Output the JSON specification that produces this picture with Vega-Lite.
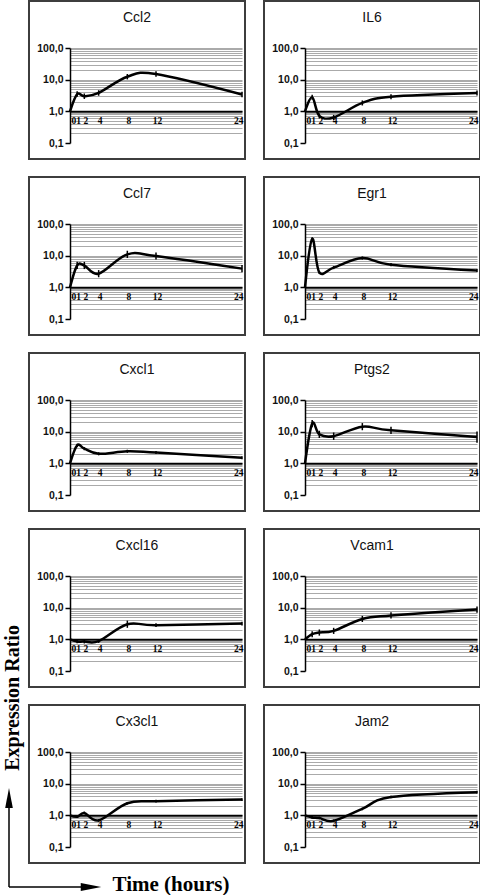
{
  "$schema": "https://vega.github.io/schema/vega-lite/v6.json",
  "padding": 0,
  "autosize": {"type": "pad"},
  "bounds": "flush",
  "spacing": 0,
  "background": "white",
  "config": {"view": {"stroke": null}, "font": "Liberation Sans"},
  "datasets": {
    "labels": [
      {"name": "y", "label": "Expression Ratio"},
      {"name": "x", "label": "Time (hours)"}
    ],
    "expr": [
      {"gene": "Ccl2", "t": 0, "v": 1, "lo": 1, "hi": 1},
      {"gene": "Ccl2", "t": 1, "v": 3.5, "lo": 2.87, "hi": 4.27},
      {"gene": "Ccl2", "t": 2, "v": 3.0, "lo": 2.46, "hi": 3.66},
      {"gene": "Ccl2", "t": 4, "v": 3.8, "lo": 3.11, "hi": 4.64},
      {"gene": "Ccl2", "t": 8, "v": 12.4, "lo": 10.2, "hi": 15.1},
      {"gene": "Ccl2", "t": 12, "v": 15, "lo": 12.3, "hi": 18.3},
      {"gene": "Ccl2", "t": 24, "v": 3.4, "lo": 2.79, "hi": 4.15},
      {"gene": "IL6", "t": 0, "v": 1, "lo": 1, "hi": 1},
      {"gene": "IL6", "t": 1, "v": 2.8, "lo": 2.33, "hi": 3.36},
      {"gene": "IL6", "t": 2, "v": 0.72, "lo": 0.6, "hi": 0.86},
      {"gene": "IL6", "t": 4, "v": 0.64, "lo": 0.53, "hi": 0.77},
      {"gene": "IL6", "t": 8, "v": 1.84, "lo": 1.53, "hi": 2.21},
      {"gene": "IL6", "t": 12, "v": 2.9, "lo": 2.42, "hi": 3.48},
      {"gene": "IL6", "t": 24, "v": 3.8, "lo": 3.17, "hi": 4.56},
      {"gene": "Ccl7", "t": 0, "v": 1, "lo": 1, "hi": 1},
      {"gene": "Ccl7", "t": 1, "v": 4.9, "lo": 3.77, "hi": 6.37},
      {"gene": "Ccl7", "t": 2, "v": 4.9, "lo": 3.77, "hi": 6.37},
      {"gene": "Ccl7", "t": 4, "v": 2.7, "lo": 2.08, "hi": 3.51},
      {"gene": "Ccl7", "t": 8, "v": 11, "lo": 8.46, "hi": 14.3},
      {"gene": "Ccl7", "t": 12, "v": 9.8, "lo": 7.54, "hi": 12.7},
      {"gene": "Ccl7", "t": 24, "v": 3.9, "lo": 3.0, "hi": 5.07},
      {"gene": "Egr1", "t": 0, "v": 1, "lo": 1, "hi": 1},
      {"gene": "Egr1", "t": 1, "v": 34, "lo": 30.4, "hi": 38.1},
      {"gene": "Egr1", "t": 2, "v": 2.95, "lo": 2.63, "hi": 3.3},
      {"gene": "Egr1", "t": 4, "v": 4.2, "lo": 3.75, "hi": 4.7},
      {"gene": "Egr1", "t": 8, "v": 8.4, "lo": 7.5, "hi": 9.4},
      {"gene": "Egr1", "t": 12, "v": 5.2, "lo": 4.64, "hi": 5.82},
      {"gene": "Egr1", "t": 24, "v": 3.4, "lo": 3.04, "hi": 3.81},
      {"gene": "Cxcl1", "t": 0, "v": 1, "lo": 1, "hi": 1},
      {"gene": "Cxcl1", "t": 1, "v": 3.7, "lo": 3.3, "hi": 4.14},
      {"gene": "Cxcl1", "t": 2, "v": 2.9, "lo": 2.59, "hi": 3.25},
      {"gene": "Cxcl1", "t": 4, "v": 2.0, "lo": 1.79, "hi": 2.24},
      {"gene": "Cxcl1", "t": 8, "v": 2.4, "lo": 2.14, "hi": 2.69},
      {"gene": "Cxcl1", "t": 12, "v": 2.2, "lo": 1.96, "hi": 2.46},
      {"gene": "Cxcl1", "t": 24, "v": 1.5, "lo": 1.34, "hi": 1.68},
      {"gene": "Ptgs2", "t": 0, "v": 1, "lo": 1, "hi": 1},
      {"gene": "Ptgs2", "t": 1, "v": 18, "lo": 13.8, "hi": 23.4},
      {"gene": "Ptgs2", "t": 2, "v": 8.2, "lo": 6.3, "hi": 10.7},
      {"gene": "Ptgs2", "t": 4, "v": 7.2, "lo": 5.5, "hi": 9.4},
      {"gene": "Ptgs2", "t": 8, "v": 14.4, "lo": 11.1, "hi": 18.7},
      {"gene": "Ptgs2", "t": 12, "v": 11, "lo": 8.5, "hi": 14.3},
      {"gene": "Ptgs2", "t": 24, "v": 6.8, "lo": 4.5, "hi": 10.2},
      {"gene": "Cxcl16", "t": 0, "v": 1, "lo": 1, "hi": 1},
      {"gene": "Cxcl16", "t": 1, "v": 0.86, "lo": 0.75, "hi": 0.99},
      {"gene": "Cxcl16", "t": 2, "v": 0.85, "lo": 0.74, "hi": 0.98},
      {"gene": "Cxcl16", "t": 4, "v": 0.88, "lo": 0.77, "hi": 1.01},
      {"gene": "Cxcl16", "t": 8, "v": 3.0, "lo": 2.31, "hi": 3.9},
      {"gene": "Cxcl16", "t": 12, "v": 2.8, "lo": 2.43, "hi": 3.22},
      {"gene": "Cxcl16", "t": 24, "v": 3.15, "lo": 2.74, "hi": 3.62},
      {"gene": "Vcam1", "t": 0, "v": 1, "lo": 1, "hi": 1},
      {"gene": "Vcam1", "t": 1, "v": 1.45, "lo": 1.16, "hi": 1.81},
      {"gene": "Vcam1", "t": 2, "v": 1.64, "lo": 1.31, "hi": 2.05},
      {"gene": "Vcam1", "t": 4, "v": 1.85, "lo": 1.48, "hi": 2.31},
      {"gene": "Vcam1", "t": 8, "v": 4.4, "lo": 3.52, "hi": 5.5},
      {"gene": "Vcam1", "t": 12, "v": 5.7, "lo": 4.56, "hi": 7.13},
      {"gene": "Vcam1", "t": 24, "v": 8.7, "lo": 6.96, "hi": 10.9},
      {"gene": "Cx3cl1", "t": 0, "v": 1, "lo": 1, "hi": 1},
      {"gene": "Cx3cl1", "t": 1, "v": 0.9, "lo": 0.82, "hi": 0.99},
      {"gene": "Cx3cl1", "t": 2, "v": 1.19, "lo": 1.08, "hi": 1.31},
      {"gene": "Cx3cl1", "t": 4, "v": 0.69, "lo": 0.63, "hi": 0.76},
      {"gene": "Cx3cl1", "t": 8, "v": 2.4, "lo": 2.18, "hi": 2.64},
      {"gene": "Cx3cl1", "t": 12, "v": 2.8, "lo": 2.55, "hi": 3.08},
      {"gene": "Cx3cl1", "t": 24, "v": 3.15, "lo": 2.86, "hi": 3.47},
      {"gene": "Jam2", "t": 0, "v": 1, "lo": 1, "hi": 1},
      {"gene": "Jam2", "t": 1, "v": 0.86, "lo": 0.78, "hi": 0.95},
      {"gene": "Jam2", "t": 2, "v": 0.82, "lo": 0.75, "hi": 0.9},
      {"gene": "Jam2", "t": 4, "v": 0.67, "lo": 0.61, "hi": 0.74},
      {"gene": "Jam2", "t": 8, "v": 1.6, "lo": 1.45, "hi": 1.76},
      {"gene": "Jam2", "t": 12, "v": 3.8, "lo": 3.45, "hi": 4.18},
      {"gene": "Jam2", "t": 24, "v": 5.4, "lo": 4.91, "hi": 5.94}
    ]
  },
  "hconcat": [
    {
      "width": 70,
      "height": 847,
      "data": {"name": "labels"},
      "layer": [
        {
          "transform": [{"filter": "datum.name == 'y'"}],
          "mark": {"type": "text", "angle": 270, "align": "center", "baseline": "alphabetic", "font": "Liberation Serif", "fontWeight": "bold", "fontSize": 20, "color": "#000"},
          "encoding": {
            "x": {"datum": 0.2714, "type": "quantitative", "scale": {"domain": [0, 1], "nice": false, "zero": false}, "axis": null},
            "y": {"datum": 0.2326, "type": "quantitative", "scale": {"domain": [0, 1], "nice": false, "zero": false}, "axis": null},
            "text": {"field": "label"}
          }
        },
        {
          "transform": [{"filter": "datum.name == 'y'"}],
          "mark": {"type": "rule", "color": "#000", "strokeWidth": 1.5},
          "encoding": {
            "x": {"datum": 0.1286, "type": "quantitative", "scale": {"domain": [0, 1], "nice": false, "zero": false}, "axis": null},
            "y": {"datum": 0.00945, "type": "quantitative", "scale": {"domain": [0, 1], "nice": false, "zero": false}, "axis": null},
            "y2": {"datum": 0.1122}
          }
        },
        {
          "transform": [{"filter": "datum.name == 'y'"}],
          "mark": {"type": "point", "shape": "M0,-1L0.38,1L-0.38,1Z", "filled": true, "color": "#000", "size": 400, "opacity": 1},
          "encoding": {
            "x": {"datum": 0.1286, "type": "quantitative", "scale": {"domain": [0, 1], "nice": false, "zero": false}, "axis": null},
            "y": {"datum": 0.1145, "type": "quantitative", "scale": {"domain": [0, 1], "nice": false, "zero": false}, "axis": null}
          }
        },
        {
          "transform": [{"filter": "datum.name == 'x'"}],
          "mark": {"type": "rule", "color": "#000", "strokeWidth": 1.5},
          "encoding": {
            "x": {"datum": 0.1286, "type": "quantitative", "scale": {"domain": [0, 1], "nice": false, "zero": false}, "axis": null},
            "x2": {"datum": 1.1714},
            "y": {"datum": 0.00945, "type": "quantitative", "scale": {"domain": [0, 1], "nice": false, "zero": false}, "axis": null}
          }
        },
        {
          "transform": [{"filter": "datum.name == 'x'"}],
          "mark": {"type": "point", "shape": "M1,0L-1,-0.38L-1,0.38Z", "filled": true, "color": "#000", "size": 420, "opacity": 1},
          "encoding": {
            "x": {"datum": 1.3, "type": "quantitative", "scale": {"domain": [0, 1], "nice": false, "zero": false}, "axis": null},
            "y": {"datum": 0.00945, "type": "quantitative", "scale": {"domain": [0, 1], "nice": false, "zero": false}, "axis": null}
          }
        },
        {
          "transform": [{"filter": "datum.name == 'x'"}],
          "mark": {"type": "text", "align": "center", "baseline": "alphabetic", "font": "Liberation Serif", "fontWeight": "bold", "fontSize": 21, "color": "#000"},
          "encoding": {
            "x": {"datum": 2.443, "type": "quantitative", "scale": {"domain": [0, 1], "nice": false, "zero": false}, "axis": null},
            "y": {"datum": 0.0047, "type": "quantitative", "scale": {"domain": [0, 1], "nice": false, "zero": false}, "axis": null},
            "text": {"field": "label"}
          }
        }
      ]
    },
    {
      "data": {"name": "expr"},
      "columns": 2,
      "bounds": "full",
      "spacing": {"row": 16, "column": 15},
      "concat": [
        {"transform": [{"filter": "datum.gene == 'Ccl2'"}], "width": 172, "height": 95, "layer": [
          {"mark": {"type": "line", "interpolate": "cardinal", "color": "#000", "strokeWidth": 2.5}, "encoding": {
            "x": {"field": "t", "type": "quantitative", "scale": {"type": "linear", "domain": [0, 24], "nice": false, "zero": false}, "axis": {"values": [0, 24], "title": null, "grid": false, "ticks": false, "labels": false, "offset": -31.67, "domainColor": "#000", "domainWidth": 2}},
            "y": {"field": "v", "type": "quantitative", "scale": {"type": "log", "domain": [0.1, 100], "nice": false}, "axis": {"values": [0.1, 0.2, 0.3, 0.4, 0.5, 0.6, 0.7, 0.8, 0.9, 1, 2, 3, 4, 5, 6, 7, 8, 9, 10, 20, 30, 40, 50, 60, 70, 80, 90, 100], "title": null, "grid": true, "gridColor": "#aaaaaa", "gridWidth": 1, "gridOpacity": {"condition": {"test": "datum.value < 0.15", "value": 0}, "value": 1}, "labelExpr": "datum.value == 0.1 ? '0,1' : datum.value == 1 ? '1,0' : datum.value == 10 ? '10,0' : datum.value == 100 ? '100,0' : ''", "labelFont": "Liberation Sans", "labelFontWeight": "bold", "labelFontSize": 10.5, "labelColor": "#111", "labelPadding": 2, "labelOverlap": false, "labelBound": false, "labelFlush": false, "tickSize": 5, "tickColor": "#000", "tickWidth": 1.5, "tickOpacity": {"condition": {"test": "datum.value == 0.1 || datum.value == 1 || datum.value == 10 || datum.value == 100", "value": 1}, "value": 0}, "domainColor": "#000", "domainWidth": 1.5}}}},
          {"transform": [{"filter": "datum.t > 0"}], "mark": {"type": "rule", "color": "#000", "strokeWidth": 1.5}, "encoding": {"x": {"field": "t", "type": "quantitative", "scale": {"type": "linear", "domain": [0, 24], "nice": false, "zero": false}}, "y": {"field": "lo", "type": "quantitative", "scale": {"type": "log", "domain": [0.1, 100], "nice": false}}, "y2": {"field": "hi"}}},
          {"mark": {"type": "text", "font": "Liberation Serif", "fontWeight": "bold", "fontSize": 9.5, "color": "#000", "baseline": "middle", "dy": 10, "dx": 1.5, "align": {"expr": "datum.t == 0 ? 'left' : datum.t == 24 ? 'right' : 'center'"}}, "encoding": {"x": {"field": "t", "type": "quantitative", "scale": {"type": "linear", "domain": [0, 24], "nice": false, "zero": false}}, "y": {"datum": 1, "type": "quantitative", "scale": {"type": "log", "domain": [0.1, 100], "nice": false}}, "text": {"field": "t", "type": "quantitative"}}},
          {"transform": [{"filter": "datum.t == 0"}], "mark": {"type": "rect", "filled": false, "stroke": "#3d3d3d", "strokeWidth": 2}, "encoding": {"x": {"datum": -5.721, "type": "quantitative", "scale": {"type": "linear", "domain": [0, 24], "nice": false, "zero": false}}, "x2": {"datum": 24.419}, "y": {"datum": 0.03126, "type": "quantitative", "scale": {"type": "log", "domain": [0.1, 100], "nice": false}}, "y2": {"datum": 3048}}},
          {"transform": [{"filter": "datum.t == 0"}], "mark": {"type": "text", "align": "center", "baseline": "middle", "font": "Liberation Sans", "fontSize": 14, "color": "#111"}, "encoding": {"x": {"datum": 9.349, "type": "quantitative", "scale": {"type": "linear", "domain": [0, 24], "nice": false, "zero": false}}, "y": {"datum": 886, "type": "quantitative", "scale": {"type": "log", "domain": [0.1, 100], "nice": false}}, "text": {"field": "gene"}}}
        ]},
        {"transform": [{"filter": "datum.gene == 'IL6'"}], "width": 172, "height": 95, "layer": [
          {"mark": {"type": "line", "interpolate": "cardinal", "color": "#000", "strokeWidth": 2.5}, "encoding": {
            "x": {"field": "t", "type": "quantitative", "scale": {"type": "linear", "domain": [0, 24], "nice": false, "zero": false}, "axis": {"values": [0, 24], "title": null, "grid": false, "ticks": false, "labels": false, "offset": -31.67, "domainColor": "#000", "domainWidth": 2}},
            "y": {"field": "v", "type": "quantitative", "scale": {"type": "log", "domain": [0.1, 100], "nice": false}, "axis": {"values": [0.1, 0.2, 0.3, 0.4, 0.5, 0.6, 0.7, 0.8, 0.9, 1, 2, 3, 4, 5, 6, 7, 8, 9, 10, 20, 30, 40, 50, 60, 70, 80, 90, 100], "title": null, "grid": true, "gridColor": "#aaaaaa", "gridWidth": 1, "gridOpacity": {"condition": {"test": "datum.value < 0.15", "value": 0}, "value": 1}, "labelExpr": "datum.value == 0.1 ? '0,1' : datum.value == 1 ? '1,0' : datum.value == 10 ? '10,0' : datum.value == 100 ? '100,0' : ''", "labelFont": "Liberation Sans", "labelFontWeight": "bold", "labelFontSize": 10.5, "labelColor": "#111", "labelPadding": 2, "labelOverlap": false, "labelBound": false, "labelFlush": false, "tickSize": 5, "tickColor": "#000", "tickWidth": 1.5, "tickOpacity": {"condition": {"test": "datum.value == 0.1 || datum.value == 1 || datum.value == 10 || datum.value == 100", "value": 1}, "value": 0}, "domainColor": "#000", "domainWidth": 1.5}}}},
          {"transform": [{"filter": "datum.t > 0"}], "mark": {"type": "rule", "color": "#000", "strokeWidth": 1.5}, "encoding": {"x": {"field": "t", "type": "quantitative", "scale": {"type": "linear", "domain": [0, 24], "nice": false, "zero": false}}, "y": {"field": "lo", "type": "quantitative", "scale": {"type": "log", "domain": [0.1, 100], "nice": false}}, "y2": {"field": "hi"}}},
          {"mark": {"type": "text", "font": "Liberation Serif", "fontWeight": "bold", "fontSize": 9.5, "color": "#000", "baseline": "middle", "dy": 10, "dx": 1.5, "align": {"expr": "datum.t == 0 ? 'left' : datum.t == 24 ? 'right' : 'center'"}}, "encoding": {"x": {"field": "t", "type": "quantitative", "scale": {"type": "linear", "domain": [0, 24], "nice": false, "zero": false}}, "y": {"datum": 1, "type": "quantitative", "scale": {"type": "log", "domain": [0.1, 100], "nice": false}}, "text": {"field": "t", "type": "quantitative"}}},
          {"transform": [{"filter": "datum.t == 0"}], "mark": {"type": "rect", "filled": false, "stroke": "#3d3d3d", "strokeWidth": 2}, "encoding": {"x": {"datum": -5.721, "type": "quantitative", "scale": {"type": "linear", "domain": [0, 24], "nice": false, "zero": false}}, "x2": {"datum": 24.419}, "y": {"datum": 0.03126, "type": "quantitative", "scale": {"type": "log", "domain": [0.1, 100], "nice": false}}, "y2": {"datum": 3048}}},
          {"transform": [{"filter": "datum.t == 0"}], "mark": {"type": "text", "align": "center", "baseline": "middle", "font": "Liberation Sans", "fontSize": 14, "color": "#111"}, "encoding": {"x": {"datum": 9.349, "type": "quantitative", "scale": {"type": "linear", "domain": [0, 24], "nice": false, "zero": false}}, "y": {"datum": 886, "type": "quantitative", "scale": {"type": "log", "domain": [0.1, 100], "nice": false}}, "text": {"field": "gene"}}}
        ]},
        {"transform": [{"filter": "datum.gene == 'Ccl7'"}], "width": 172, "height": 95, "layer": [
          {"mark": {"type": "line", "interpolate": "cardinal", "color": "#000", "strokeWidth": 2.5}, "encoding": {
            "x": {"field": "t", "type": "quantitative", "scale": {"type": "linear", "domain": [0, 24], "nice": false, "zero": false}, "axis": {"values": [0, 24], "title": null, "grid": false, "ticks": false, "labels": false, "offset": -31.67, "domainColor": "#000", "domainWidth": 2}},
            "y": {"field": "v", "type": "quantitative", "scale": {"type": "log", "domain": [0.1, 100], "nice": false}, "axis": {"values": [0.1, 0.2, 0.3, 0.4, 0.5, 0.6, 0.7, 0.8, 0.9, 1, 2, 3, 4, 5, 6, 7, 8, 9, 10, 20, 30, 40, 50, 60, 70, 80, 90, 100], "title": null, "grid": true, "gridColor": "#aaaaaa", "gridWidth": 1, "gridOpacity": {"condition": {"test": "datum.value < 0.15", "value": 0}, "value": 1}, "labelExpr": "datum.value == 0.1 ? '0,1' : datum.value == 1 ? '1,0' : datum.value == 10 ? '10,0' : datum.value == 100 ? '100,0' : ''", "labelFont": "Liberation Sans", "labelFontWeight": "bold", "labelFontSize": 10.5, "labelColor": "#111", "labelPadding": 2, "labelOverlap": false, "labelBound": false, "labelFlush": false, "tickSize": 5, "tickColor": "#000", "tickWidth": 1.5, "tickOpacity": {"condition": {"test": "datum.value == 0.1 || datum.value == 1 || datum.value == 10 || datum.value == 100", "value": 1}, "value": 0}, "domainColor": "#000", "domainWidth": 1.5}}}},
          {"transform": [{"filter": "datum.t > 0"}], "mark": {"type": "rule", "color": "#000", "strokeWidth": 1.5}, "encoding": {"x": {"field": "t", "type": "quantitative", "scale": {"type": "linear", "domain": [0, 24], "nice": false, "zero": false}}, "y": {"field": "lo", "type": "quantitative", "scale": {"type": "log", "domain": [0.1, 100], "nice": false}}, "y2": {"field": "hi"}}},
          {"mark": {"type": "text", "font": "Liberation Serif", "fontWeight": "bold", "fontSize": 9.5, "color": "#000", "baseline": "middle", "dy": 10, "dx": 1.5, "align": {"expr": "datum.t == 0 ? 'left' : datum.t == 24 ? 'right' : 'center'"}}, "encoding": {"x": {"field": "t", "type": "quantitative", "scale": {"type": "linear", "domain": [0, 24], "nice": false, "zero": false}}, "y": {"datum": 1, "type": "quantitative", "scale": {"type": "log", "domain": [0.1, 100], "nice": false}}, "text": {"field": "t", "type": "quantitative"}}},
          {"transform": [{"filter": "datum.t == 0"}], "mark": {"type": "rect", "filled": false, "stroke": "#3d3d3d", "strokeWidth": 2}, "encoding": {"x": {"datum": -5.721, "type": "quantitative", "scale": {"type": "linear", "domain": [0, 24], "nice": false, "zero": false}}, "x2": {"datum": 24.419}, "y": {"datum": 0.03126, "type": "quantitative", "scale": {"type": "log", "domain": [0.1, 100], "nice": false}}, "y2": {"datum": 3048}}},
          {"transform": [{"filter": "datum.t == 0"}], "mark": {"type": "text", "align": "center", "baseline": "middle", "font": "Liberation Sans", "fontSize": 14, "color": "#111"}, "encoding": {"x": {"datum": 9.349, "type": "quantitative", "scale": {"type": "linear", "domain": [0, 24], "nice": false, "zero": false}}, "y": {"datum": 886, "type": "quantitative", "scale": {"type": "log", "domain": [0.1, 100], "nice": false}}, "text": {"field": "gene"}}}
        ]},
        {"transform": [{"filter": "datum.gene == 'Egr1'"}], "width": 172, "height": 95, "layer": [
          {"mark": {"type": "line", "interpolate": "cardinal", "color": "#000", "strokeWidth": 2.5}, "encoding": {
            "x": {"field": "t", "type": "quantitative", "scale": {"type": "linear", "domain": [0, 24], "nice": false, "zero": false}, "axis": {"values": [0, 24], "title": null, "grid": false, "ticks": false, "labels": false, "offset": -31.67, "domainColor": "#000", "domainWidth": 2}},
            "y": {"field": "v", "type": "quantitative", "scale": {"type": "log", "domain": [0.1, 100], "nice": false}, "axis": {"values": [0.1, 0.2, 0.3, 0.4, 0.5, 0.6, 0.7, 0.8, 0.9, 1, 2, 3, 4, 5, 6, 7, 8, 9, 10, 20, 30, 40, 50, 60, 70, 80, 90, 100], "title": null, "grid": true, "gridColor": "#aaaaaa", "gridWidth": 1, "gridOpacity": {"condition": {"test": "datum.value < 0.15", "value": 0}, "value": 1}, "labelExpr": "datum.value == 0.1 ? '0,1' : datum.value == 1 ? '1,0' : datum.value == 10 ? '10,0' : datum.value == 100 ? '100,0' : ''", "labelFont": "Liberation Sans", "labelFontWeight": "bold", "labelFontSize": 10.5, "labelColor": "#111", "labelPadding": 2, "labelOverlap": false, "labelBound": false, "labelFlush": false, "tickSize": 5, "tickColor": "#000", "tickWidth": 1.5, "tickOpacity": {"condition": {"test": "datum.value == 0.1 || datum.value == 1 || datum.value == 10 || datum.value == 100", "value": 1}, "value": 0}, "domainColor": "#000", "domainWidth": 1.5}}}},
          {"transform": [{"filter": "datum.t > 0"}], "mark": {"type": "rule", "color": "#000", "strokeWidth": 1.5}, "encoding": {"x": {"field": "t", "type": "quantitative", "scale": {"type": "linear", "domain": [0, 24], "nice": false, "zero": false}}, "y": {"field": "lo", "type": "quantitative", "scale": {"type": "log", "domain": [0.1, 100], "nice": false}}, "y2": {"field": "hi"}}},
          {"mark": {"type": "text", "font": "Liberation Serif", "fontWeight": "bold", "fontSize": 9.5, "color": "#000", "baseline": "middle", "dy": 10, "dx": 1.5, "align": {"expr": "datum.t == 0 ? 'left' : datum.t == 24 ? 'right' : 'center'"}}, "encoding": {"x": {"field": "t", "type": "quantitative", "scale": {"type": "linear", "domain": [0, 24], "nice": false, "zero": false}}, "y": {"datum": 1, "type": "quantitative", "scale": {"type": "log", "domain": [0.1, 100], "nice": false}}, "text": {"field": "t", "type": "quantitative"}}},
          {"transform": [{"filter": "datum.t == 0"}], "mark": {"type": "rect", "filled": false, "stroke": "#3d3d3d", "strokeWidth": 2}, "encoding": {"x": {"datum": -5.721, "type": "quantitative", "scale": {"type": "linear", "domain": [0, 24], "nice": false, "zero": false}}, "x2": {"datum": 24.419}, "y": {"datum": 0.03126, "type": "quantitative", "scale": {"type": "log", "domain": [0.1, 100], "nice": false}}, "y2": {"datum": 3048}}},
          {"transform": [{"filter": "datum.t == 0"}], "mark": {"type": "text", "align": "center", "baseline": "middle", "font": "Liberation Sans", "fontSize": 14, "color": "#111"}, "encoding": {"x": {"datum": 9.349, "type": "quantitative", "scale": {"type": "linear", "domain": [0, 24], "nice": false, "zero": false}}, "y": {"datum": 886, "type": "quantitative", "scale": {"type": "log", "domain": [0.1, 100], "nice": false}}, "text": {"field": "gene"}}}
        ]},
        {"transform": [{"filter": "datum.gene == 'Cxcl1'"}], "width": 172, "height": 95, "layer": [
          {"mark": {"type": "line", "interpolate": "cardinal", "color": "#000", "strokeWidth": 2.5}, "encoding": {
            "x": {"field": "t", "type": "quantitative", "scale": {"type": "linear", "domain": [0, 24], "nice": false, "zero": false}, "axis": {"values": [0, 24], "title": null, "grid": false, "ticks": false, "labels": false, "offset": -31.67, "domainColor": "#000", "domainWidth": 2}},
            "y": {"field": "v", "type": "quantitative", "scale": {"type": "log", "domain": [0.1, 100], "nice": false}, "axis": {"values": [0.1, 0.2, 0.3, 0.4, 0.5, 0.6, 0.7, 0.8, 0.9, 1, 2, 3, 4, 5, 6, 7, 8, 9, 10, 20, 30, 40, 50, 60, 70, 80, 90, 100], "title": null, "grid": true, "gridColor": "#aaaaaa", "gridWidth": 1, "gridOpacity": {"condition": {"test": "datum.value < 0.15", "value": 0}, "value": 1}, "labelExpr": "datum.value == 0.1 ? '0,1' : datum.value == 1 ? '1,0' : datum.value == 10 ? '10,0' : datum.value == 100 ? '100,0' : ''", "labelFont": "Liberation Sans", "labelFontWeight": "bold", "labelFontSize": 10.5, "labelColor": "#111", "labelPadding": 2, "labelOverlap": false, "labelBound": false, "labelFlush": false, "tickSize": 5, "tickColor": "#000", "tickWidth": 1.5, "tickOpacity": {"condition": {"test": "datum.value == 0.1 || datum.value == 1 || datum.value == 10 || datum.value == 100", "value": 1}, "value": 0}, "domainColor": "#000", "domainWidth": 1.5}}}},
          {"transform": [{"filter": "datum.t > 0"}], "mark": {"type": "rule", "color": "#000", "strokeWidth": 1.5}, "encoding": {"x": {"field": "t", "type": "quantitative", "scale": {"type": "linear", "domain": [0, 24], "nice": false, "zero": false}}, "y": {"field": "lo", "type": "quantitative", "scale": {"type": "log", "domain": [0.1, 100], "nice": false}}, "y2": {"field": "hi"}}},
          {"mark": {"type": "text", "font": "Liberation Serif", "fontWeight": "bold", "fontSize": 9.5, "color": "#000", "baseline": "middle", "dy": 10, "dx": 1.5, "align": {"expr": "datum.t == 0 ? 'left' : datum.t == 24 ? 'right' : 'center'"}}, "encoding": {"x": {"field": "t", "type": "quantitative", "scale": {"type": "linear", "domain": [0, 24], "nice": false, "zero": false}}, "y": {"datum": 1, "type": "quantitative", "scale": {"type": "log", "domain": [0.1, 100], "nice": false}}, "text": {"field": "t", "type": "quantitative"}}},
          {"transform": [{"filter": "datum.t == 0"}], "mark": {"type": "rect", "filled": false, "stroke": "#3d3d3d", "strokeWidth": 2}, "encoding": {"x": {"datum": -5.721, "type": "quantitative", "scale": {"type": "linear", "domain": [0, 24], "nice": false, "zero": false}}, "x2": {"datum": 24.419}, "y": {"datum": 0.03126, "type": "quantitative", "scale": {"type": "log", "domain": [0.1, 100], "nice": false}}, "y2": {"datum": 3048}}},
          {"transform": [{"filter": "datum.t == 0"}], "mark": {"type": "text", "align": "center", "baseline": "middle", "font": "Liberation Sans", "fontSize": 14, "color": "#111"}, "encoding": {"x": {"datum": 9.349, "type": "quantitative", "scale": {"type": "linear", "domain": [0, 24], "nice": false, "zero": false}}, "y": {"datum": 886, "type": "quantitative", "scale": {"type": "log", "domain": [0.1, 100], "nice": false}}, "text": {"field": "gene"}}}
        ]},
        {"transform": [{"filter": "datum.gene == 'Ptgs2'"}], "width": 172, "height": 95, "layer": [
          {"mark": {"type": "line", "interpolate": "cardinal", "color": "#000", "strokeWidth": 2.5}, "encoding": {
            "x": {"field": "t", "type": "quantitative", "scale": {"type": "linear", "domain": [0, 24], "nice": false, "zero": false}, "axis": {"values": [0, 24], "title": null, "grid": false, "ticks": false, "labels": false, "offset": -31.67, "domainColor": "#000", "domainWidth": 2}},
            "y": {"field": "v", "type": "quantitative", "scale": {"type": "log", "domain": [0.1, 100], "nice": false}, "axis": {"values": [0.1, 0.2, 0.3, 0.4, 0.5, 0.6, 0.7, 0.8, 0.9, 1, 2, 3, 4, 5, 6, 7, 8, 9, 10, 20, 30, 40, 50, 60, 70, 80, 90, 100], "title": null, "grid": true, "gridColor": "#aaaaaa", "gridWidth": 1, "gridOpacity": {"condition": {"test": "datum.value < 0.15", "value": 0}, "value": 1}, "labelExpr": "datum.value == 0.1 ? '0,1' : datum.value == 1 ? '1,0' : datum.value == 10 ? '10,0' : datum.value == 100 ? '100,0' : ''", "labelFont": "Liberation Sans", "labelFontWeight": "bold", "labelFontSize": 10.5, "labelColor": "#111", "labelPadding": 2, "labelOverlap": false, "labelBound": false, "labelFlush": false, "tickSize": 5, "tickColor": "#000", "tickWidth": 1.5, "tickOpacity": {"condition": {"test": "datum.value == 0.1 || datum.value == 1 || datum.value == 10 || datum.value == 100", "value": 1}, "value": 0}, "domainColor": "#000", "domainWidth": 1.5}}}},
          {"transform": [{"filter": "datum.t > 0"}], "mark": {"type": "rule", "color": "#000", "strokeWidth": 1.5}, "encoding": {"x": {"field": "t", "type": "quantitative", "scale": {"type": "linear", "domain": [0, 24], "nice": false, "zero": false}}, "y": {"field": "lo", "type": "quantitative", "scale": {"type": "log", "domain": [0.1, 100], "nice": false}}, "y2": {"field": "hi"}}},
          {"mark": {"type": "text", "font": "Liberation Serif", "fontWeight": "bold", "fontSize": 9.5, "color": "#000", "baseline": "middle", "dy": 10, "dx": 1.5, "align": {"expr": "datum.t == 0 ? 'left' : datum.t == 24 ? 'right' : 'center'"}}, "encoding": {"x": {"field": "t", "type": "quantitative", "scale": {"type": "linear", "domain": [0, 24], "nice": false, "zero": false}}, "y": {"datum": 1, "type": "quantitative", "scale": {"type": "log", "domain": [0.1, 100], "nice": false}}, "text": {"field": "t", "type": "quantitative"}}},
          {"transform": [{"filter": "datum.t == 0"}], "mark": {"type": "rect", "filled": false, "stroke": "#3d3d3d", "strokeWidth": 2}, "encoding": {"x": {"datum": -5.721, "type": "quantitative", "scale": {"type": "linear", "domain": [0, 24], "nice": false, "zero": false}}, "x2": {"datum": 24.419}, "y": {"datum": 0.03126, "type": "quantitative", "scale": {"type": "log", "domain": [0.1, 100], "nice": false}}, "y2": {"datum": 3048}}},
          {"transform": [{"filter": "datum.t == 0"}], "mark": {"type": "text", "align": "center", "baseline": "middle", "font": "Liberation Sans", "fontSize": 14, "color": "#111"}, "encoding": {"x": {"datum": 9.349, "type": "quantitative", "scale": {"type": "linear", "domain": [0, 24], "nice": false, "zero": false}}, "y": {"datum": 886, "type": "quantitative", "scale": {"type": "log", "domain": [0.1, 100], "nice": false}}, "text": {"field": "gene"}}}
        ]},
        {"transform": [{"filter": "datum.gene == 'Cxcl16'"}], "width": 172, "height": 95, "layer": [
          {"mark": {"type": "line", "interpolate": "cardinal", "color": "#000", "strokeWidth": 2.5}, "encoding": {
            "x": {"field": "t", "type": "quantitative", "scale": {"type": "linear", "domain": [0, 24], "nice": false, "zero": false}, "axis": {"values": [0, 24], "title": null, "grid": false, "ticks": false, "labels": false, "offset": -31.67, "domainColor": "#000", "domainWidth": 2}},
            "y": {"field": "v", "type": "quantitative", "scale": {"type": "log", "domain": [0.1, 100], "nice": false}, "axis": {"values": [0.1, 0.2, 0.3, 0.4, 0.5, 0.6, 0.7, 0.8, 0.9, 1, 2, 3, 4, 5, 6, 7, 8, 9, 10, 20, 30, 40, 50, 60, 70, 80, 90, 100], "title": null, "grid": true, "gridColor": "#aaaaaa", "gridWidth": 1, "gridOpacity": {"condition": {"test": "datum.value < 0.15", "value": 0}, "value": 1}, "labelExpr": "datum.value == 0.1 ? '0,1' : datum.value == 1 ? '1,0' : datum.value == 10 ? '10,0' : datum.value == 100 ? '100,0' : ''", "labelFont": "Liberation Sans", "labelFontWeight": "bold", "labelFontSize": 10.5, "labelColor": "#111", "labelPadding": 2, "labelOverlap": false, "labelBound": false, "labelFlush": false, "tickSize": 5, "tickColor": "#000", "tickWidth": 1.5, "tickOpacity": {"condition": {"test": "datum.value == 0.1 || datum.value == 1 || datum.value == 10 || datum.value == 100", "value": 1}, "value": 0}, "domainColor": "#000", "domainWidth": 1.5}}}},
          {"transform": [{"filter": "datum.t > 0"}], "mark": {"type": "rule", "color": "#000", "strokeWidth": 1.5}, "encoding": {"x": {"field": "t", "type": "quantitative", "scale": {"type": "linear", "domain": [0, 24], "nice": false, "zero": false}}, "y": {"field": "lo", "type": "quantitative", "scale": {"type": "log", "domain": [0.1, 100], "nice": false}}, "y2": {"field": "hi"}}},
          {"mark": {"type": "text", "font": "Liberation Serif", "fontWeight": "bold", "fontSize": 9.5, "color": "#000", "baseline": "middle", "dy": 10, "dx": 1.5, "align": {"expr": "datum.t == 0 ? 'left' : datum.t == 24 ? 'right' : 'center'"}}, "encoding": {"x": {"field": "t", "type": "quantitative", "scale": {"type": "linear", "domain": [0, 24], "nice": false, "zero": false}}, "y": {"datum": 1, "type": "quantitative", "scale": {"type": "log", "domain": [0.1, 100], "nice": false}}, "text": {"field": "t", "type": "quantitative"}}},
          {"transform": [{"filter": "datum.t == 0"}], "mark": {"type": "rect", "filled": false, "stroke": "#3d3d3d", "strokeWidth": 2}, "encoding": {"x": {"datum": -5.721, "type": "quantitative", "scale": {"type": "linear", "domain": [0, 24], "nice": false, "zero": false}}, "x2": {"datum": 24.419}, "y": {"datum": 0.03126, "type": "quantitative", "scale": {"type": "log", "domain": [0.1, 100], "nice": false}}, "y2": {"datum": 3048}}},
          {"transform": [{"filter": "datum.t == 0"}], "mark": {"type": "text", "align": "center", "baseline": "middle", "font": "Liberation Sans", "fontSize": 14, "color": "#111"}, "encoding": {"x": {"datum": 9.349, "type": "quantitative", "scale": {"type": "linear", "domain": [0, 24], "nice": false, "zero": false}}, "y": {"datum": 886, "type": "quantitative", "scale": {"type": "log", "domain": [0.1, 100], "nice": false}}, "text": {"field": "gene"}}}
        ]},
        {"transform": [{"filter": "datum.gene == 'Vcam1'"}], "width": 172, "height": 95, "layer": [
          {"mark": {"type": "line", "interpolate": "cardinal", "color": "#000", "strokeWidth": 2.5}, "encoding": {
            "x": {"field": "t", "type": "quantitative", "scale": {"type": "linear", "domain": [0, 24], "nice": false, "zero": false}, "axis": {"values": [0, 24], "title": null, "grid": false, "ticks": false, "labels": false, "offset": -31.67, "domainColor": "#000", "domainWidth": 2}},
            "y": {"field": "v", "type": "quantitative", "scale": {"type": "log", "domain": [0.1, 100], "nice": false}, "axis": {"values": [0.1, 0.2, 0.3, 0.4, 0.5, 0.6, 0.7, 0.8, 0.9, 1, 2, 3, 4, 5, 6, 7, 8, 9, 10, 20, 30, 40, 50, 60, 70, 80, 90, 100], "title": null, "grid": true, "gridColor": "#aaaaaa", "gridWidth": 1, "gridOpacity": {"condition": {"test": "datum.value < 0.15", "value": 0}, "value": 1}, "labelExpr": "datum.value == 0.1 ? '0,1' : datum.value == 1 ? '1,0' : datum.value == 10 ? '10,0' : datum.value == 100 ? '100,0' : ''", "labelFont": "Liberation Sans", "labelFontWeight": "bold", "labelFontSize": 10.5, "labelColor": "#111", "labelPadding": 2, "labelOverlap": false, "labelBound": false, "labelFlush": false, "tickSize": 5, "tickColor": "#000", "tickWidth": 1.5, "tickOpacity": {"condition": {"test": "datum.value == 0.1 || datum.value == 1 || datum.value == 10 || datum.value == 100", "value": 1}, "value": 0}, "domainColor": "#000", "domainWidth": 1.5}}}},
          {"transform": [{"filter": "datum.t > 0"}], "mark": {"type": "rule", "color": "#000", "strokeWidth": 1.5}, "encoding": {"x": {"field": "t", "type": "quantitative", "scale": {"type": "linear", "domain": [0, 24], "nice": false, "zero": false}}, "y": {"field": "lo", "type": "quantitative", "scale": {"type": "log", "domain": [0.1, 100], "nice": false}}, "y2": {"field": "hi"}}},
          {"mark": {"type": "text", "font": "Liberation Serif", "fontWeight": "bold", "fontSize": 9.5, "color": "#000", "baseline": "middle", "dy": 10, "dx": 1.5, "align": {"expr": "datum.t == 0 ? 'left' : datum.t == 24 ? 'right' : 'center'"}}, "encoding": {"x": {"field": "t", "type": "quantitative", "scale": {"type": "linear", "domain": [0, 24], "nice": false, "zero": false}}, "y": {"datum": 1, "type": "quantitative", "scale": {"type": "log", "domain": [0.1, 100], "nice": false}}, "text": {"field": "t", "type": "quantitative"}}},
          {"transform": [{"filter": "datum.t == 0"}], "mark": {"type": "rect", "filled": false, "stroke": "#3d3d3d", "strokeWidth": 2}, "encoding": {"x": {"datum": -5.721, "type": "quantitative", "scale": {"type": "linear", "domain": [0, 24], "nice": false, "zero": false}}, "x2": {"datum": 24.419}, "y": {"datum": 0.03126, "type": "quantitative", "scale": {"type": "log", "domain": [0.1, 100], "nice": false}}, "y2": {"datum": 3048}}},
          {"transform": [{"filter": "datum.t == 0"}], "mark": {"type": "text", "align": "center", "baseline": "middle", "font": "Liberation Sans", "fontSize": 14, "color": "#111"}, "encoding": {"x": {"datum": 9.349, "type": "quantitative", "scale": {"type": "linear", "domain": [0, 24], "nice": false, "zero": false}}, "y": {"datum": 886, "type": "quantitative", "scale": {"type": "log", "domain": [0.1, 100], "nice": false}}, "text": {"field": "gene"}}}
        ]},
        {"transform": [{"filter": "datum.gene == 'Cx3cl1'"}], "width": 172, "height": 95, "layer": [
          {"mark": {"type": "line", "interpolate": "cardinal", "color": "#000", "strokeWidth": 2.5}, "encoding": {
            "x": {"field": "t", "type": "quantitative", "scale": {"type": "linear", "domain": [0, 24], "nice": false, "zero": false}, "axis": {"values": [0, 24], "title": null, "grid": false, "ticks": false, "labels": false, "offset": -31.67, "domainColor": "#000", "domainWidth": 2}},
            "y": {"field": "v", "type": "quantitative", "scale": {"type": "log", "domain": [0.1, 100], "nice": false}, "axis": {"values": [0.1, 0.2, 0.3, 0.4, 0.5, 0.6, 0.7, 0.8, 0.9, 1, 2, 3, 4, 5, 6, 7, 8, 9, 10, 20, 30, 40, 50, 60, 70, 80, 90, 100], "title": null, "grid": true, "gridColor": "#aaaaaa", "gridWidth": 1, "gridOpacity": {"condition": {"test": "datum.value < 0.15", "value": 0}, "value": 1}, "labelExpr": "datum.value == 0.1 ? '0,1' : datum.value == 1 ? '1,0' : datum.value == 10 ? '10,0' : datum.value == 100 ? '100,0' : ''", "labelFont": "Liberation Sans", "labelFontWeight": "bold", "labelFontSize": 10.5, "labelColor": "#111", "labelPadding": 2, "labelOverlap": false, "labelBound": false, "labelFlush": false, "tickSize": 5, "tickColor": "#000", "tickWidth": 1.5, "tickOpacity": {"condition": {"test": "datum.value == 0.1 || datum.value == 1 || datum.value == 10 || datum.value == 100", "value": 1}, "value": 0}, "domainColor": "#000", "domainWidth": 1.5}}}},
          {"transform": [{"filter": "datum.t > 0"}], "mark": {"type": "rule", "color": "#000", "strokeWidth": 1.5}, "encoding": {"x": {"field": "t", "type": "quantitative", "scale": {"type": "linear", "domain": [0, 24], "nice": false, "zero": false}}, "y": {"field": "lo", "type": "quantitative", "scale": {"type": "log", "domain": [0.1, 100], "nice": false}}, "y2": {"field": "hi"}}},
          {"mark": {"type": "text", "font": "Liberation Serif", "fontWeight": "bold", "fontSize": 9.5, "color": "#000", "baseline": "middle", "dy": 10, "dx": 1.5, "align": {"expr": "datum.t == 0 ? 'left' : datum.t == 24 ? 'right' : 'center'"}}, "encoding": {"x": {"field": "t", "type": "quantitative", "scale": {"type": "linear", "domain": [0, 24], "nice": false, "zero": false}}, "y": {"datum": 1, "type": "quantitative", "scale": {"type": "log", "domain": [0.1, 100], "nice": false}}, "text": {"field": "t", "type": "quantitative"}}},
          {"transform": [{"filter": "datum.t == 0"}], "mark": {"type": "rect", "filled": false, "stroke": "#3d3d3d", "strokeWidth": 2}, "encoding": {"x": {"datum": -5.721, "type": "quantitative", "scale": {"type": "linear", "domain": [0, 24], "nice": false, "zero": false}}, "x2": {"datum": 24.419}, "y": {"datum": 0.03126, "type": "quantitative", "scale": {"type": "log", "domain": [0.1, 100], "nice": false}}, "y2": {"datum": 3048}}},
          {"transform": [{"filter": "datum.t == 0"}], "mark": {"type": "text", "align": "center", "baseline": "middle", "font": "Liberation Sans", "fontSize": 14, "color": "#111"}, "encoding": {"x": {"datum": 9.349, "type": "quantitative", "scale": {"type": "linear", "domain": [0, 24], "nice": false, "zero": false}}, "y": {"datum": 886, "type": "quantitative", "scale": {"type": "log", "domain": [0.1, 100], "nice": false}}, "text": {"field": "gene"}}}
        ]},
        {"transform": [{"filter": "datum.gene == 'Jam2'"}], "width": 172, "height": 95, "layer": [
          {"mark": {"type": "line", "interpolate": "cardinal", "color": "#000", "strokeWidth": 2.5}, "encoding": {
            "x": {"field": "t", "type": "quantitative", "scale": {"type": "linear", "domain": [0, 24], "nice": false, "zero": false}, "axis": {"values": [0, 24], "title": null, "grid": false, "ticks": false, "labels": false, "offset": -31.67, "domainColor": "#000", "domainWidth": 2}},
            "y": {"field": "v", "type": "quantitative", "scale": {"type": "log", "domain": [0.1, 100], "nice": false}, "axis": {"values": [0.1, 0.2, 0.3, 0.4, 0.5, 0.6, 0.7, 0.8, 0.9, 1, 2, 3, 4, 5, 6, 7, 8, 9, 10, 20, 30, 40, 50, 60, 70, 80, 90, 100], "title": null, "grid": true, "gridColor": "#aaaaaa", "gridWidth": 1, "gridOpacity": {"condition": {"test": "datum.value < 0.15", "value": 0}, "value": 1}, "labelExpr": "datum.value == 0.1 ? '0,1' : datum.value == 1 ? '1,0' : datum.value == 10 ? '10,0' : datum.value == 100 ? '100,0' : ''", "labelFont": "Liberation Sans", "labelFontWeight": "bold", "labelFontSize": 10.5, "labelColor": "#111", "labelPadding": 2, "labelOverlap": false, "labelBound": false, "labelFlush": false, "tickSize": 5, "tickColor": "#000", "tickWidth": 1.5, "tickOpacity": {"condition": {"test": "datum.value == 0.1 || datum.value == 1 || datum.value == 10 || datum.value == 100", "value": 1}, "value": 0}, "domainColor": "#000", "domainWidth": 1.5}}}},
          {"transform": [{"filter": "datum.t > 0"}], "mark": {"type": "rule", "color": "#000", "strokeWidth": 1.5}, "encoding": {"x": {"field": "t", "type": "quantitative", "scale": {"type": "linear", "domain": [0, 24], "nice": false, "zero": false}}, "y": {"field": "lo", "type": "quantitative", "scale": {"type": "log", "domain": [0.1, 100], "nice": false}}, "y2": {"field": "hi"}}},
          {"mark": {"type": "text", "font": "Liberation Serif", "fontWeight": "bold", "fontSize": 9.5, "color": "#000", "baseline": "middle", "dy": 10, "dx": 1.5, "align": {"expr": "datum.t == 0 ? 'left' : datum.t == 24 ? 'right' : 'center'"}}, "encoding": {"x": {"field": "t", "type": "quantitative", "scale": {"type": "linear", "domain": [0, 24], "nice": false, "zero": false}}, "y": {"datum": 1, "type": "quantitative", "scale": {"type": "log", "domain": [0.1, 100], "nice": false}}, "text": {"field": "t", "type": "quantitative"}}},
          {"transform": [{"filter": "datum.t == 0"}], "mark": {"type": "rect", "filled": false, "stroke": "#3d3d3d", "strokeWidth": 2}, "encoding": {"x": {"datum": -5.721, "type": "quantitative", "scale": {"type": "linear", "domain": [0, 24], "nice": false, "zero": false}}, "x2": {"datum": 24.419}, "y": {"datum": 0.03126, "type": "quantitative", "scale": {"type": "log", "domain": [0.1, 100], "nice": false}}, "y2": {"datum": 3048}}},
          {"transform": [{"filter": "datum.t == 0"}], "mark": {"type": "text", "align": "center", "baseline": "middle", "font": "Liberation Sans", "fontSize": 14, "color": "#111"}, "encoding": {"x": {"datum": 9.349, "type": "quantitative", "scale": {"type": "linear", "domain": [0, 24], "nice": false, "zero": false}}, "y": {"datum": 886, "type": "quantitative", "scale": {"type": "log", "domain": [0.1, 100], "nice": false}}, "text": {"field": "gene"}}}
        ]}
      ]
    }
  ]
}
